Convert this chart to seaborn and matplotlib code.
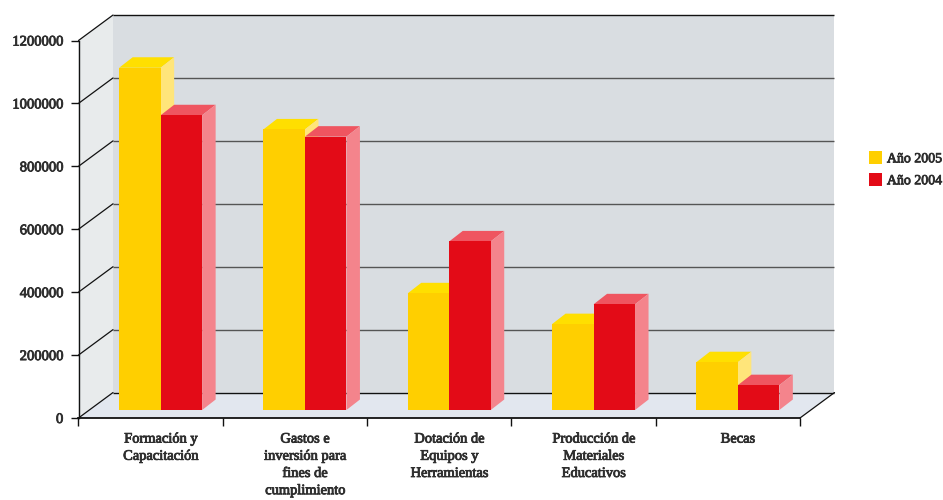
import matplotlib
matplotlib.use('Agg')
import matplotlib.pyplot as plt
import matplotlib.patheffects as pe
from matplotlib.patches import Polygon
import pandas as pd
import seaborn as sns

# --- Data ---
categories = ['Formación y\nCapacitación', 'Gastos e\ninversión para\nfines de\ncumplimiento',
              'Dotación de\nEquipos y\nHerramientas', 'Producción de\nMateriales\nEducativos', 'Becas']
anio_2005 = [1088000, 892000, 371000, 273000, 152000]
anio_2004 = [937000, 869000, 536000, 336000, 79000]
series_names = ['Año 2005', 'Año 2004']
y_ticks = [0, 200000, 400000, 600000, 800000, 1000000, 1200000]

# --- Styling ---
YELLOW = ['#FFCF00', '#FFDF00', '#FFE57A']  # front, top, side
RED = ['#E30B17', '#EF5560', '#F4848C']
TEXT = '#2E2E2E'
FATTEN = [pe.withStroke(linewidth=0.6, foreground=TEXT)]  # the original type is a heavier condensed serif
sns.set_theme(style='white')
plt.rcParams['font.family'] = ['Liberation Serif', 'DejaVu Serif']

PX_X = 1 / 144.3      # one pixel in category units
PX_Y = 200000 / 63.0  # one pixel in value units
wall_dx, wall_dy = 34.5 * PX_X, 25.5 * PX_Y
bar_dx, bar_dy = 13.5 * PX_X, 10.5 * PX_Y
lift_x, lift_y = 10 * PX_X, 8 * PX_Y

df = pd.DataFrame({
    'cat': categories * 2,
    'valor': anio_2005 + anio_2004,
    'serie': [series_names[0]] * 5 + [series_names[1]] * 5,
})

fig = plt.figure(figsize=(9.43, 5), dpi=100)
ax = fig.add_axes([78.5 / 943, 82 / 500, 721.5 / 943, 377.5 / 500])

sns.barplot(data=df, x='cat', y='valor', hue='serie', hue_order=series_names,
            palette=[YELLOW[0], RED[0]], width=0.575, gap=0, saturation=1,
            linewidth=0, errorbar=None, ax=ax)
ax.set_xlim(-0.5, 4.5)
ax.set_ylim(0, 1200000)


def face(points, color, z):
    ax.add_patch(Polygon(points, closed=True, fc=color, ec='none', lw=0, zorder=z, clip_on=False))


# --- Walls and floor ---
x0, x1, ytop = -0.5, 4.5, y_ticks[-1]
face([(x0 + wall_dx, wall_dy), (x1 + wall_dx, wall_dy), (x1 + wall_dx, ytop + wall_dy), (x0 + wall_dx, ytop + wall_dy)], '#D9DDE1', 0.1)
face([(x0, 0), (x0 + wall_dx, wall_dy), (x0 + wall_dx, ytop + wall_dy), (x0, ytop)], '#E8EBEC', 0.1)
face([(x0, 0), (x1, 0), (x1 + wall_dx, wall_dy), (x0 + wall_dx, wall_dy)], '#E2E7EF', 0.1)

for t in y_ticks:
    edge = '#111111' if t in (0, ytop) else '#555555'
    ax.plot([x0 + wall_dx, x1 + wall_dx], [t + wall_dy] * 2, color=edge, lw=1.0, zorder=0.5, clip_on=False,
            solid_capstyle='butt')
    ax.plot([x0, x0 + wall_dx], [t, t + wall_dy], color='#111111', lw=0.9, zorder=0.5, clip_on=False)
ax.plot([x1, x1 + wall_dx], [0, wall_dy], color='#111111', lw=0.9, zorder=0.5, clip_on=False)

# --- Bars: lift the seaborn bars off the front edge and add their top and side ---
for k, (container, cols) in enumerate(zip(ax.containers, [YELLOW, RED])):
    for p in container:
        p.set_x(p.get_x() + lift_x)
        p.set_y(lift_y)
        p.set_zorder(3 + 2 * k)
        p.set_clip_on(False)
        l, r = p.get_x(), p.get_x() + p.get_width()
        b, t = p.get_y(), p.get_y() + p.get_height()
        face([(l, t), (r, t), (r + bar_dx, t + bar_dy), (l + bar_dx, t + bar_dy)], cols[1], 2.5 + 2 * k)
        face([(r, b), (r + bar_dx, b + bar_dy), (r + bar_dx, t + bar_dy), (r, t)], cols[2], 2.5 + 2 * k)

# --- Axes ---
ax.set_xlabel('')
ax.set_ylabel('')
ax.set_yticks(y_ticks)
ax.set_yticklabels([str(t) for t in y_ticks], fontsize=10.5, color=TEXT)
ax.set_xticks([i - 0.5 for i in range(6)])
ax.set_xticklabels([''] * 6)
ax.set_xticks([i + lift_x for i in range(5)], minor=True)
ax.set_xticklabels(categories, minor=True, fontsize=10.4, color=TEXT, linespacing=1.42)
for lab in ax.get_yticklabels() + ax.get_xticklabels(minor=True):
    lab.set_path_effects(FATTEN)
ax.tick_params(axis='both', which='major', length=6, width=1, color='#111111', left=True, bottom=True)
ax.tick_params(axis='y', pad=5)
ax.tick_params(axis='x', which='minor', length=0, pad=10.5)
for s in ['top', 'right']:
    ax.spines[s].set_visible(False)
ax.spines['left'].set_color('#111111')
ax.spines['left'].set_linewidth(1)
ax.spines['bottom'].set_color('#111111')
ax.spines['bottom'].set_linewidth(1.3)
ax.spines['left'].set_zorder(1)
ax.spines['bottom'].set_zorder(1)

# --- Legend ---
handles, labels = ax.get_legend_handles_labels()
leg = ax.legend(handles, labels, loc='upper left', bbox_to_anchor=(869 / 943, 1 - 151 / 500),
                bbox_transform=fig.transFigure, frameon=False, handlelength=0.94,
                handleheight=1.08, handletextpad=0.35, labelspacing=0.55, borderpad=0, borderaxespad=0,
                labelcolor=TEXT, prop={'family': 'Liberation Serif', 'size': 10})
for txt in leg.get_texts():
    txt.set_path_effects(FATTEN)

fig.savefig('out.png', dpi=100, facecolor='white')
